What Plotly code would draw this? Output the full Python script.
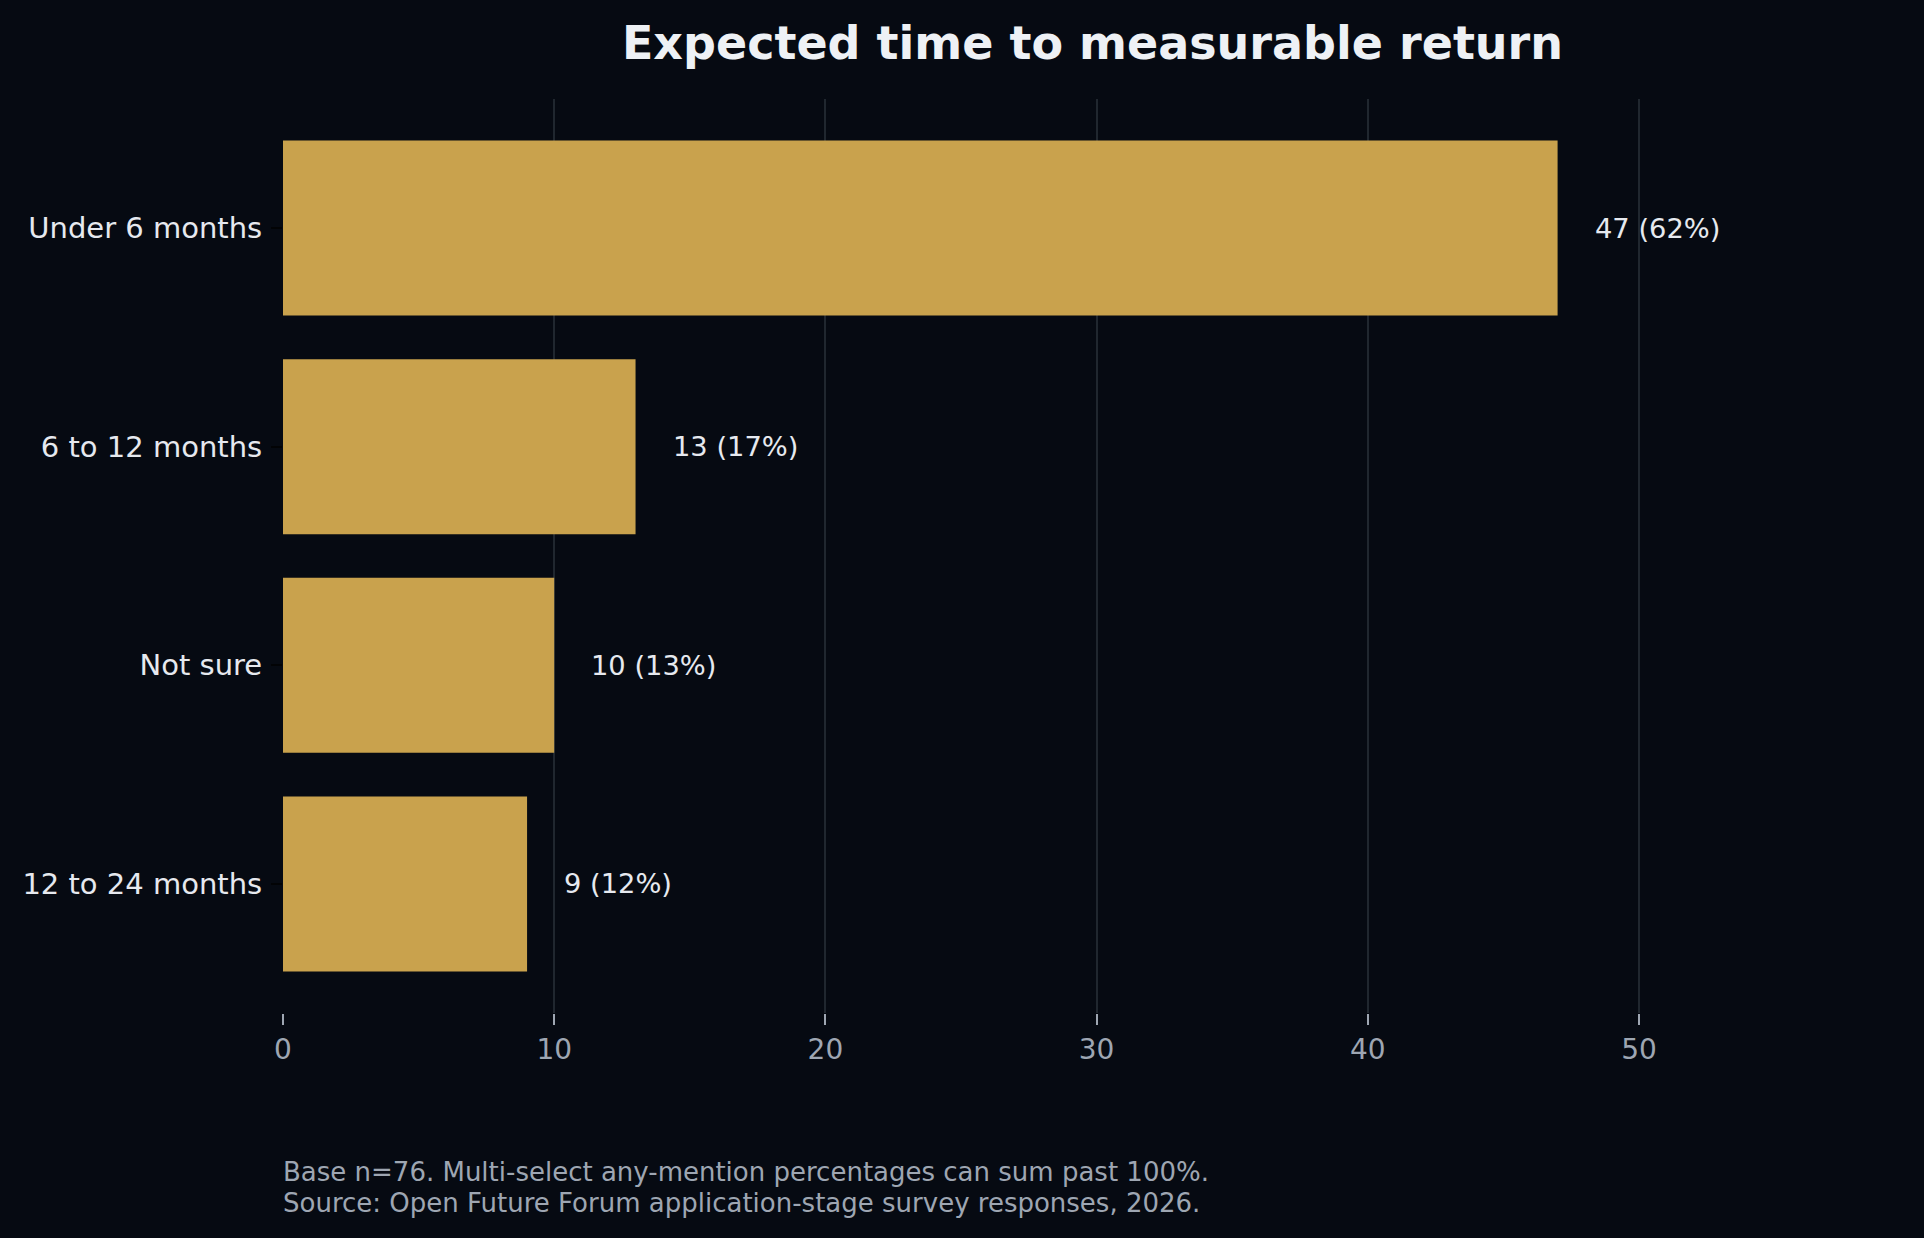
import plotly.graph_objects as go

categories = ["Under 6 months", "6 to 12 months", "Not sure", "12 to 24 months"]
counts = [47, 13, 10, 9]
percents = [62, 17, 13, 12]
x_ticks = [0, 10, 20, 30, 40, 50]

title_text = "Expected time to measurable return"
note_lines = [
    "Base n=76. Multi-select any-mention percentages can sum past 100%.",
    "Source: Open Future Forum application-stage survey responses, 2026.",
]

BG = "#060a12"
BAR = "#c9a24d"
TXT = "#e6e9ef"
MUTED = "#9ea6b2"
GRID = "#20272f"
FONT = "DejaVu Sans"

W, H = 1924, 1238
L, R, T, B = 283, 1902, 99, 1013

fig = go.Figure()
fig.add_trace(go.Bar(
    x=counts, y=categories, orientation="h",
    marker=dict(color=BAR, line=dict(width=0)),
    width=0.8, hoverinfo="skip",
))

for c, v, p in zip(categories, counts, percents):
    fig.add_annotation(
        x=v, y=c, xref="x", yref="y", text=f"{v} ({p}%)",
        showarrow=False, xanchor="left", yanchor="middle", xshift=35,
        font=dict(family=FONT, size=27.3, color=TXT),
    )

plot_h = B - T
centers = [1172, 1203]
for line, cy in zip(note_lines, centers):
    fig.add_annotation(
        x=0, y=-(cy - B) / plot_h, xref="paper", yref="paper", text=line,
        showarrow=False, xanchor="left", yanchor="middle", align="left", xshift=-2,
        font=dict(family=FONT, size=26, color=MUTED),
    )

fig.update_layout(
    width=W, height=H,
    margin=dict(l=L, r=W - R, t=T, b=H - B, pad=0),
    paper_bgcolor=BG, plot_bgcolor=BG,
    showlegend=False, bargap=0.2,
    title=dict(
        text=f"<b>{title_text}</b>", x=0.5, xref="paper", xanchor="center",
        y=1 - 43 / H, yref="container", yanchor="middle",
        font=dict(family=FONT, size=46, color="#eef1f5"),
    ),
    xaxis=dict(
        range=[0, 59.7], tickvals=x_ticks, showgrid=True, gridcolor=GRID, gridwidth=1.5,
        zeroline=False, showline=False, ticks="outside", ticklen=11, tickwidth=1.6,
        tickcolor=MUTED, tickfont=dict(family=FONT, size=28, color=MUTED),
    ),
    yaxis=dict(
        type="category", categoryorder="array", categoryarray=categories,
        range=[3.59, -0.59], showgrid=False, zeroline=False, showline=False,
        ticks="outside", ticklen=11, tickwidth=2, tickcolor="#020305",
        ticklabelstandoff=3,
        tickfont=dict(family=FONT, size=29, color=TXT),
    ),
)

fig.write_html("out.html")
